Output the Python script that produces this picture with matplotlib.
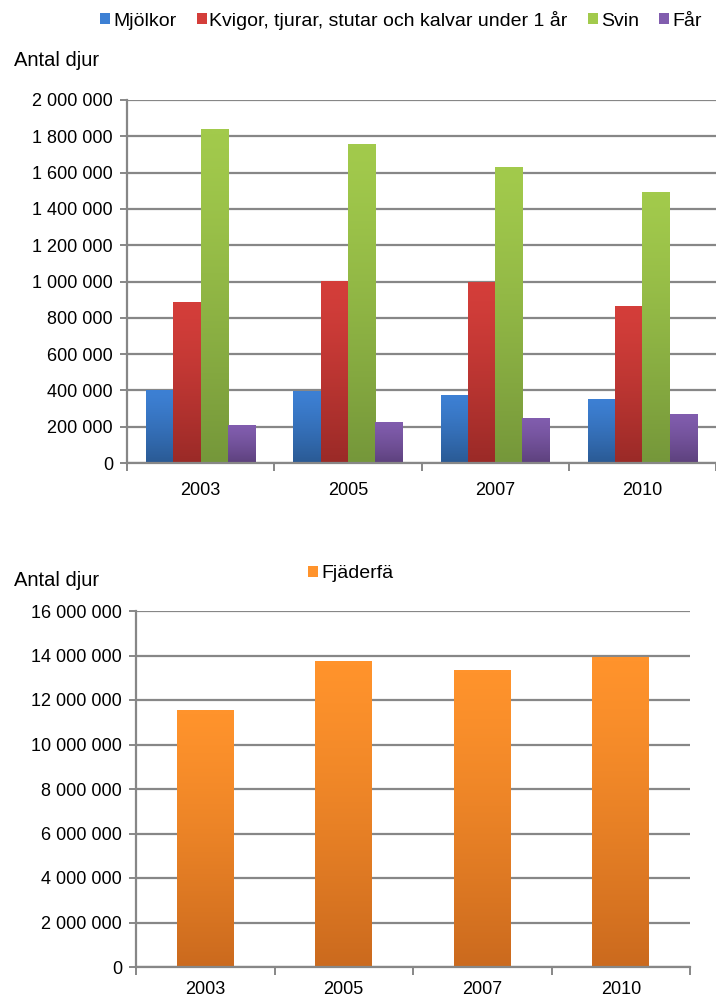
import numpy as np
import matplotlib
matplotlib.use("Agg")
import matplotlib.pyplot as plt
from matplotlib.colors import LinearSegmentedColormap
from matplotlib.ticker import FuncFormatter, FixedLocator

plt.rcParams['font.family'] = ['Liberation Sans', 'DejaVu Sans']

years = ["2003", "2005", "2007", "2010"]
series = ["Mjölkor", "Kvigor, tjurar, stutar och kalvar under 1 år", "Svin", "Får"]
mjolkor = [402000, 398000, 375000, 353000]
kvigor = [887000, 1003000, 997000, 865000]
svin = [1840000, 1758000, 1631000, 1493000]
far = [209000, 226000, 248000, 270000]
fjaderfa = [11550000, 13750000, 13350000, 13930000]

# (top colour, bottom colour) for the gradient fill
grad_colors = [("#3d80d4", "#2a5a94"), ("#d43e3a", "#9a2a27"),
               ("#a2ca4c", "#75973a"), ("#815dae", "#5d417d")]
orange = ("#ff932c", "#cb6a1e")

grid_col = "#878787"


def fmt(v, pos):
    return f"{int(v):,}".replace(",", " ")


def gradient_fill(ax, patch, top, bot):
    x, y = patch.get_x(), patch.get_y()
    w, h = patch.get_width(), patch.get_height()
    cmap = LinearSegmentedColormap.from_list("g", [top, bot])
    grad = np.linspace(0, 1, 256).reshape(-1, 1) ** 1.3
    im = ax.imshow(grad, cmap=cmap, extent=[x, x + w, y, y + h],
                   aspect="auto", origin="upper", zorder=patch.get_zorder() + 0.1)
    im.set_clip_path(patch)


def style_axes(ax, ymax, step, xpad):
    ax.set_axisbelow(True)
    ax.set_ylim(0, ymax)
    ax.yaxis.set_major_locator(FixedLocator(np.arange(0, ymax + 1, step)))
    ax.yaxis.set_major_formatter(FuncFormatter(fmt))
    ax.grid(axis="y", color=grid_col, linewidth=1.6)
    for s in ["top", "right"]:
        ax.spines[s].set_visible(False)
    for s in ["left", "bottom"]:
        ax.spines[s].set_color(grid_col)
        ax.spines[s].set_linewidth(1.6)
    ax.tick_params(axis="y", colors=grid_col, labelcolor="black", labelsize=13,
                   length=5, width=1.4, pad=5)
    ax.set_xticks([-0.5, 0.5, 1.5, 2.5, 3.5])
    ax.set_xticklabels([])
    ax.tick_params(axis="x", which="major", colors=grid_col, length=6, width=1.4)
    ax.set_xticks(range(len(years)), minor=True)
    ax.set_xticklabels(years, minor=True)
    ax.tick_params(axis="x", which="minor", length=0, labelsize=13, pad=xpad)


fig = plt.figure(figsize=(7.16, 10.01), dpi=100)

# top chart
ax1 = fig.add_axes([127 / 716, 1 - 463 / 1001, 1 - 127 / 716, 363 / 1001])
x = np.arange(len(years))
bw = 0.185
handles = []
for i, (name, vals) in enumerate(zip(series, [mjolkor, kvigor, svin, far])):
    bars = ax1.bar(x + (i - 1.5) * bw, vals, bw, color=grad_colors[i][0], label=name,
                   linewidth=0)
    for p in bars:
        gradient_fill(ax1, p, *grad_colors[i])
    handles.append(bars)
ax1.set_xlim(-0.5, 3.45)
style_axes(ax1, 2000000, 200000, 14)
fig.legend(handles=handles, labels=series, loc="center", bbox_to_anchor=(0.56, 1 - 20 / 1001),
           ncol=4, frameon=False, fontsize=14, handlelength=0.5, handleheight=0.5,
           handletextpad=0.15, columnspacing=1.05, borderpad=0)
fig.text(14 / 716, 1 - 61 / 1001, "Antal djur", fontsize=14.5, va="center")

# bottom chart
ax2 = fig.add_axes([136 / 716, 1 - 967 / 1001, 554 / 716, 356 / 1001])
bars = ax2.bar(x, fjaderfa, 0.41, color=orange[0], label="Fjäderfä", linewidth=0)
for p in bars:
    gradient_fill(ax2, p, *orange)
ax2.set_xlim(-0.5, 3.5)
style_axes(ax2, 16000000, 2000000, 10)
fig.legend(handles=[bars], labels=["Fjäderfä"], loc="center", bbox_to_anchor=(0.49, 1 - 574 / 1001),
           frameon=False, fontsize=14, handlelength=0.5, handleheight=0.5,
           handletextpad=0.15, borderpad=0)
fig.text(14 / 716, 1 - 580 / 1001, "Antal djur", fontsize=14.5, va="center")

fig.savefig("out.png", dpi=100)
